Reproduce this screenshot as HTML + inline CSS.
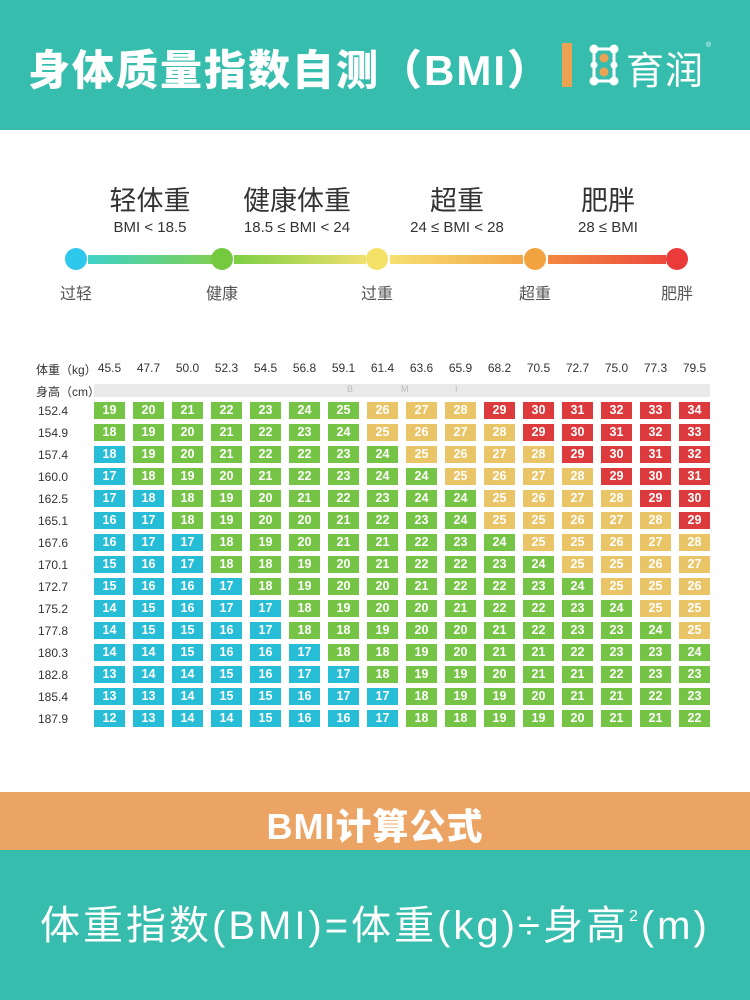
<!DOCTYPE html>
<html><head><meta charset="utf-8"><style>
*{margin:0;padding:0;box-sizing:border-box}
body{width:750px;height:1000px;position:relative;background:#fff;font-family:"Liberation Sans","Noto Sans CJK SC",sans-serif;overflow:hidden}
.abs{position:absolute}
.top{left:0;top:0;width:750px;height:130px;background:#37bdad}
.title{left:28px;top:37px;font-size:42px;font-weight:900;color:#fff;letter-spacing:2px;white-space:nowrap}
.cat{font-size:27px;color:#333;text-align:center;width:180px;margin-left:-90px;top:179px}
.sub{font-size:15px;color:#333;text-align:center;width:160px;margin-left:-80px;top:219px}
.lab{font-size:16px;color:#555;text-align:center;width:80px;margin-left:-40px;top:280px}
.dot{width:22px;height:22px;border-radius:50%;margin-left:-11px;top:248px}
.row{left:94px;height:17px;display:flex;gap:8px}
.row span{width:31px;height:17px;color:#fff;font-weight:bold;font-size:12.5px;text-align:center;line-height:17px}
.b{background:#28bdd6}.g{background:#76c445}.y{background:#e9c567}.r{background:#dc3a3d}
.hl{left:38px;font-size:12px;color:#333;width:40px}
.w{top:361px;font-size:12px;color:#333;width:39px;text-align:center}
</style></head><body>
<div class="abs top"></div>
<div class="abs title">身体质量指数自测（BMI）</div>
<div class="abs" style="left:562px;top:43px;width:10px;height:44px;background:#eca253"></div>
<svg class="abs" style="left:589px;top:44px" width="30" height="42" viewBox="0 0 30 42">
<g fill="#fff"><circle cx="5" cy="5" r="4.5"/><circle cx="25" cy="5" r="4.5"/><circle cx="5" cy="37" r="4.5"/><circle cx="25" cy="37" r="4.5"/><circle cx="5" cy="21" r="3.5"/><circle cx="25" cy="21" r="3.5"/></g>
<path d="M5 5H25M5 37H25M5 5V37M25 5V37" stroke="#fff" stroke-width="3" fill="none"/>
<circle cx="15" cy="14" r="4.5" fill="#eca253"/><circle cx="15" cy="28" r="4.5" fill="#eca253"/></svg>
<div class="abs" style="left:626px;top:40px;font-size:38px;color:#fff;letter-spacing:1px">育润</div>
<div class="abs" style="left:706px;top:42px;font-size:7px;color:#fff">®</div>

<div class="abs cat" style="left:150px">轻体重</div>
<div class="abs cat" style="left:297px">健康体重</div>
<div class="abs cat" style="left:457px">超重</div>
<div class="abs cat" style="left:608px">肥胖</div>
<div class="abs sub" style="left:150px">BMI &lt; 18.5</div>
<div class="abs sub" style="left:297px">18.5 ≤ BMI &lt; 24</div>
<div class="abs sub" style="left:457px">24 ≤ BMI &lt; 28</div>
<div class="abs sub" style="left:608px">28 ≤ BMI</div>
<div class="abs" style="left:88px;top:255px;width:124px;height:9px;background:linear-gradient(90deg,#3fd3c8,#7ccf55)"></div>
<div class="abs" style="left:234px;top:255px;width:132px;height:9px;background:linear-gradient(90deg,#7ccf44,#f0e070)"></div>
<div class="abs" style="left:390px;top:255px;width:133px;height:9px;background:linear-gradient(90deg,#f6e070,#f3a64a)"></div>
<div class="abs" style="left:548px;top:255px;width:118px;height:9px;background:linear-gradient(90deg,#f28840,#ec4a3d)"></div>
<div class="abs dot" style="left:76px;background:#2ec8ec"></div>
<div class="abs dot" style="left:222px;background:#74c93f"></div>
<div class="abs dot" style="left:377px;background:#f6e168"></div>
<div class="abs dot" style="left:535px;background:#f3a240"></div>
<div class="abs dot" style="left:677px;background:#ea3b3a"></div>
<div class="abs lab" style="left:76px">过轻</div>
<div class="abs lab" style="left:222px">健康</div>
<div class="abs lab" style="left:377px">过重</div>
<div class="abs lab" style="left:535px">超重</div>
<div class="abs lab" style="left:677px">肥胖</div>

<div class="abs" style="left:36px;top:361px;font-size:12px;color:#333">体重（kg）</div>
<div class="abs" style="left:36px;top:383px;font-size:12px;color:#333">身高（cm）</div>
<div class="abs w" style="left:90px">45.5</div><div class="abs w" style="left:129px">47.7</div><div class="abs w" style="left:168px">50.0</div><div class="abs w" style="left:207px">52.3</div><div class="abs w" style="left:246px">54.5</div><div class="abs w" style="left:285px">56.8</div><div class="abs w" style="left:324px">59.1</div><div class="abs w" style="left:363px">61.4</div><div class="abs w" style="left:402px">63.6</div><div class="abs w" style="left:441px">65.9</div><div class="abs w" style="left:480px">68.2</div><div class="abs w" style="left:519px">70.5</div><div class="abs w" style="left:558px">72.7</div><div class="abs w" style="left:597px">75.0</div><div class="abs w" style="left:636px">77.3</div><div class="abs w" style="left:675px">79.5</div>
<div class="abs" style="left:94px;top:384px;width:616px;height:13px;background:#e9e9e9"></div>
<div class="abs" style="left:347px;top:384px;font-size:9px;color:#bbb">B</div>
<div class="abs" style="left:401px;top:384px;font-size:9px;color:#bbb">M</div>
<div class="abs" style="left:455px;top:384px;font-size:9px;color:#bbb">I</div>

<div class="abs hl" style="top:404px">152.4</div>
<div class="abs hl" style="top:426px">154.9</div>
<div class="abs hl" style="top:448px">157.4</div>
<div class="abs hl" style="top:470px">160.0</div>
<div class="abs hl" style="top:492px">162.5</div>
<div class="abs hl" style="top:514px">165.1</div>
<div class="abs hl" style="top:536px">167.6</div>
<div class="abs hl" style="top:558px">170.1</div>
<div class="abs hl" style="top:580px">172.7</div>
<div class="abs hl" style="top:602px">175.2</div>
<div class="abs hl" style="top:624px">177.8</div>
<div class="abs hl" style="top:646px">180.3</div>
<div class="abs hl" style="top:668px">182.8</div>
<div class="abs hl" style="top:690px">185.4</div>
<div class="abs hl" style="top:712px">187.9</div>

<div class="abs row" style="top:402px"><span class="g">19</span><span class="g">20</span><span class="g">21</span><span class="g">22</span><span class="g">23</span><span class="g">24</span><span class="g">25</span><span class="y">26</span><span class="y">27</span><span class="y">28</span><span class="r">29</span><span class="r">30</span><span class="r">31</span><span class="r">32</span><span class="r">33</span><span class="r">34</span></div>
<div class="abs row" style="top:424px"><span class="g">18</span><span class="g">19</span><span class="g">20</span><span class="g">21</span><span class="g">22</span><span class="g">23</span><span class="g">24</span><span class="y">25</span><span class="y">26</span><span class="y">27</span><span class="y">28</span><span class="r">29</span><span class="r">30</span><span class="r">31</span><span class="r">32</span><span class="r">33</span></div>
<div class="abs row" style="top:446px"><span class="b">18</span><span class="g">19</span><span class="g">20</span><span class="g">21</span><span class="g">22</span><span class="g">22</span><span class="g">23</span><span class="g">24</span><span class="y">25</span><span class="y">26</span><span class="y">27</span><span class="y">28</span><span class="r">29</span><span class="r">30</span><span class="r">31</span><span class="r">32</span></div>
<div class="abs row" style="top:468px"><span class="b">17</span><span class="g">18</span><span class="g">19</span><span class="g">20</span><span class="g">21</span><span class="g">22</span><span class="g">23</span><span class="g">24</span><span class="g">24</span><span class="y">25</span><span class="y">26</span><span class="y">27</span><span class="y">28</span><span class="r">29</span><span class="r">30</span><span class="r">31</span></div>
<div class="abs row" style="top:490px"><span class="b">17</span><span class="b">18</span><span class="g">18</span><span class="g">19</span><span class="g">20</span><span class="g">21</span><span class="g">22</span><span class="g">23</span><span class="g">24</span><span class="g">24</span><span class="y">25</span><span class="y">26</span><span class="y">27</span><span class="y">28</span><span class="r">29</span><span class="r">30</span></div>
<div class="abs row" style="top:512px"><span class="b">16</span><span class="b">17</span><span class="g">18</span><span class="g">19</span><span class="g">20</span><span class="g">20</span><span class="g">21</span><span class="g">22</span><span class="g">23</span><span class="g">24</span><span class="y">25</span><span class="y">25</span><span class="y">26</span><span class="y">27</span><span class="y">28</span><span class="r">29</span></div>
<div class="abs row" style="top:534px"><span class="b">16</span><span class="b">17</span><span class="b">17</span><span class="g">18</span><span class="g">19</span><span class="g">20</span><span class="g">21</span><span class="g">21</span><span class="g">22</span><span class="g">23</span><span class="g">24</span><span class="y">25</span><span class="y">25</span><span class="y">26</span><span class="y">27</span><span class="y">28</span></div>
<div class="abs row" style="top:556px"><span class="b">15</span><span class="b">16</span><span class="b">17</span><span class="g">18</span><span class="g">18</span><span class="g">19</span><span class="g">20</span><span class="g">21</span><span class="g">22</span><span class="g">22</span><span class="g">23</span><span class="g">24</span><span class="y">25</span><span class="y">25</span><span class="y">26</span><span class="y">27</span></div>
<div class="abs row" style="top:578px"><span class="b">15</span><span class="b">16</span><span class="b">16</span><span class="b">17</span><span class="g">18</span><span class="g">19</span><span class="g">20</span><span class="g">20</span><span class="g">21</span><span class="g">22</span><span class="g">22</span><span class="g">23</span><span class="g">24</span><span class="y">25</span><span class="y">25</span><span class="y">26</span></div>
<div class="abs row" style="top:600px"><span class="b">14</span><span class="b">15</span><span class="b">16</span><span class="b">17</span><span class="b">17</span><span class="g">18</span><span class="g">19</span><span class="g">20</span><span class="g">20</span><span class="g">21</span><span class="g">22</span><span class="g">22</span><span class="g">23</span><span class="g">24</span><span class="y">25</span><span class="y">25</span></div>
<div class="abs row" style="top:622px"><span class="b">14</span><span class="b">15</span><span class="b">15</span><span class="b">16</span><span class="b">17</span><span class="g">18</span><span class="g">18</span><span class="g">19</span><span class="g">20</span><span class="g">20</span><span class="g">21</span><span class="g">22</span><span class="g">23</span><span class="g">23</span><span class="g">24</span><span class="y">25</span></div>
<div class="abs row" style="top:644px"><span class="b">14</span><span class="b">14</span><span class="b">15</span><span class="b">16</span><span class="b">16</span><span class="b">17</span><span class="g">18</span><span class="g">18</span><span class="g">19</span><span class="g">20</span><span class="g">21</span><span class="g">21</span><span class="g">22</span><span class="g">23</span><span class="g">23</span><span class="g">24</span></div>
<div class="abs row" style="top:666px"><span class="b">13</span><span class="b">14</span><span class="b">14</span><span class="b">15</span><span class="b">16</span><span class="b">17</span><span class="b">17</span><span class="g">18</span><span class="g">19</span><span class="g">19</span><span class="g">20</span><span class="g">21</span><span class="g">21</span><span class="g">22</span><span class="g">23</span><span class="g">23</span></div>
<div class="abs row" style="top:688px"><span class="b">13</span><span class="b">13</span><span class="b">14</span><span class="b">15</span><span class="b">15</span><span class="b">16</span><span class="b">17</span><span class="b">17</span><span class="g">18</span><span class="g">19</span><span class="g">19</span><span class="g">20</span><span class="g">21</span><span class="g">21</span><span class="g">22</span><span class="g">23</span></div>
<div class="abs row" style="top:710px"><span class="b">12</span><span class="b">13</span><span class="b">14</span><span class="b">14</span><span class="b">15</span><span class="b">16</span><span class="b">16</span><span class="b">17</span><span class="g">18</span><span class="g">18</span><span class="g">19</span><span class="g">19</span><span class="g">20</span><span class="g">21</span><span class="g">21</span><span class="g">22</span></div>

<div class="abs" style="left:0;top:792px;width:750px;height:58px;background:#eba463"></div>
<div class="abs" style="left:0;top:798px;width:750px;text-align:center;font-size:36px;font-weight:900;color:#fff;letter-spacing:1px">BMI计算公式</div>
<div class="abs" style="left:0;top:850px;width:750px;height:150px;background:#37bdad"></div>
<div class="abs" style="left:40px;top:893px;font-size:40px;color:#fff;white-space:nowrap;letter-spacing:3px">体重指数(BMI)=体重(kg)÷身高<sup style="font-size:16px;vertical-align:18px">2</sup>(m)</div>
</body></html>
